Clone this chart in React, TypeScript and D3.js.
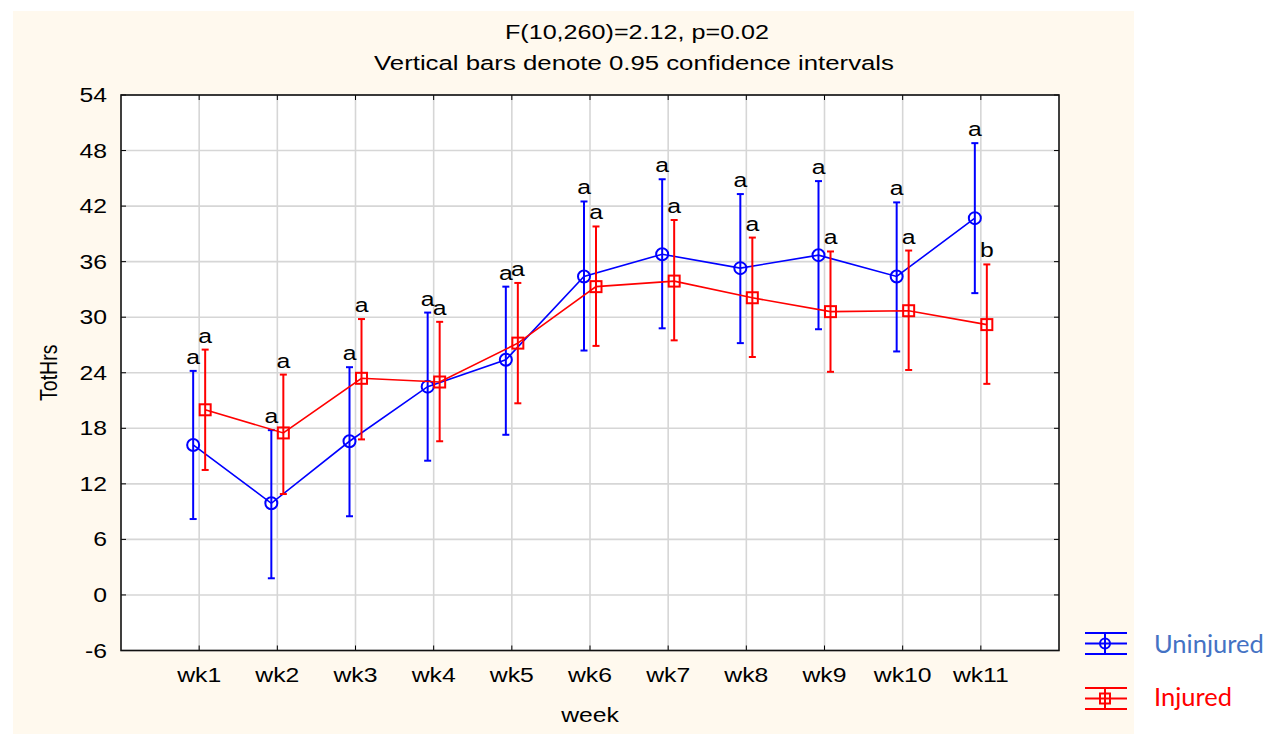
import React from 'react';
import * as d3 from 'd3';

const weeks = ['wk1', 'wk2', 'wk3', 'wk4', 'wk5', 'wk6', 'wk7', 'wk8', 'wk9', 'wk10', 'wk11'];
const yTicks = [-6, 0, 6, 12, 18, 24, 30, 36, 42, 48, 54];

const uninjuredMean = [16.2, 9.9, 16.6, 22.5, 25.4, 34.4, 36.8, 35.3, 36.7, 34.4, 40.7];
const uninjuredUpper = [24.2, 17.8, 24.6, 30.5, 33.3, 42.5, 44.9, 43.3, 44.7, 42.4, 48.8];
const uninjuredLower = [8.2, 1.8, 8.5, 14.5, 17.3, 26.4, 28.8, 27.2, 28.7, 26.3, 32.6];
const uninjuredLetters = ['a', 'a', 'a', 'a', 'a', 'a', 'a', 'a', 'a', 'a', 'a'];

const injuredMean = [20.0, 17.5, 23.4, 23.0, 27.2, 33.3, 33.9, 32.1, 30.6, 30.7, 29.2];
const injuredUpper = [26.5, 23.8, 29.8, 29.5, 33.7, 39.8, 40.5, 38.6, 37.1, 37.2, 35.7];
const injuredLower = [13.5, 10.9, 16.8, 16.6, 20.7, 26.9, 27.5, 25.7, 24.1, 24.3, 22.8];
const injuredLetters = ['a', 'a', 'a', 'a', 'a', 'a', 'a', 'a', 'a', 'a', 'b'];

const titleLines = ['F(10,260)=2.12, p=0.02', 'Vertical bars denote 0.95 confidence intervals'];

const W = 1276;
const H = 734;
const L = 121, R = 1059, TOP = 95, BOT = 650.5;
const FONT = '"Liberation Sans", Arial, sans-serif';
const FS = 19.5;
const SX = 1.27;

function T(props: { x: number; y: number; anchor?: string; children: any; fill?: string; rotate?: boolean; size?: number }) {
  const { x, y, anchor = 'middle', children, fill = '#000', rotate, size = FS } = props;
  const tr = `translate(${x},${y}) scale(${SX},1)` + (rotate ? ' rotate(-90)' : '');
  return (
    <text transform={tr} textAnchor={anchor} fontFamily={FONT} fontSize={size} fill={fill}>
      {children}
    </text>
  );
}

export default function App() {
  const x = d3.scalePoint<string>().domain(weeks).range([L, R]).padding(1);
  const y = d3.scaleLinear().domain([-6, 54]).range([BOT, TOP]);
  const off = 6;

  const series = [
    { name: 'Uninjured', color: '#0000FF', mean: uninjuredMean, up: uninjuredUpper, lo: uninjuredLower, letters: uninjuredLetters, dx: -off, marker: 'circle' },
    { name: 'Injured', color: '#FF0000', mean: injuredMean, up: injuredUpper, lo: injuredLower, letters: injuredLetters, dx: off, marker: 'square' },
  ];

  return (
    <svg width={W} height={H} style={{ position: 'absolute', left: 0, top: 0, background: '#fff' }}>
      <rect x={13} y={11} width={1121} height={H - 11} fill="#FFF9EE" />
      <rect x={L} y={TOP} width={R - L} height={BOT - TOP} fill="#fff" />
      {/* grid */}
      {weeks.map((w) => (
        <line key={w} x1={x(w)} x2={x(w)} y1={TOP} y2={BOT} stroke="#D6D6D6" strokeWidth={1.6} />
      ))}
      {yTicks.map((t) => (
        <line key={t} x1={L} x2={R} y1={y(t)} y2={y(t)} stroke="#D6D6D6" strokeWidth={1.6} />
      ))}
      {/* ticks inward */}
      {weeks.map((w) => (
        <g key={'t' + w}>
          <line x1={x(w)} x2={x(w)} y1={BOT} y2={BOT - 5} stroke="#000" strokeWidth={1} />
          <line x1={x(w)} x2={x(w)} y1={TOP} y2={TOP + 5} stroke="#000" strokeWidth={1} />
        </g>
      ))}
      {yTicks.map((t) => (
        <g key={'ty' + t}>
          <line x1={L} x2={L + 5} y1={y(t)} y2={y(t)} stroke="#000" strokeWidth={1} />
          <line x1={R} x2={R - 5} y1={y(t)} y2={y(t)} stroke="#000" strokeWidth={1} />
        </g>
      ))}
      <rect x={L} y={TOP} width={R - L} height={BOT - TOP} fill="none" stroke="#111" strokeWidth={1.6} />

      {/* tick labels */}
      {yTicks.map((t) => (
        <T key={'yl' + t} x={107} y={y(t) + 7} anchor="end">{t}</T>
      ))}
      {weeks.map((w) => (
        <T key={'xl' + w} x={x(w)!} y={682}>{w}</T>
      ))}
      <T x={(L + R) / 2} y={722}>week</T>
      <T x={57} y={(TOP + BOT) / 2} rotate>TotHrs</T>
      <T x={637} y={39} size={19.8}>{titleLines[0]}</T>
      <T x={634} y={70} size={20.3}>{titleLines[1]}</T>

      {/* series */}
      {series.map((s) => {
        const px = (i: number) => x(weeks[i])! + s.dx;
        const path = d3.line<number>().x((_, i) => px(i)).y((d) => y(d))(s.mean);
        return (
          <g key={s.name}>
            {s.mean.map((m, i) => (
              <g key={i} stroke={s.color} strokeWidth={2}>
                <line x1={px(i)} x2={px(i)} y1={y(s.up[i])} y2={y(s.lo[i])} />
                <line x1={px(i) - 3.5} x2={px(i) + 3.5} y1={y(s.up[i])} y2={y(s.up[i])} />
                <line x1={px(i) - 3.5} x2={px(i) + 3.5} y1={y(s.lo[i])} y2={y(s.lo[i])} />
              </g>
            ))}
            <path d={path!} fill="none" stroke={s.color} strokeWidth={1.6} />
            {s.mean.map((m, i) =>
              s.marker === 'circle' ? (
                <circle key={'m' + i} cx={px(i)} cy={y(m)} r={6} fill="none" stroke={s.color} strokeWidth={2} />
              ) : (
                <rect key={'m' + i} x={px(i) - 5.5} y={y(m) - 5.5} width={11} height={11} fill="none" stroke={s.color} strokeWidth={2} />
              )
            )}
            {s.letters.map((l, i) => (
              <T key={'l' + i} x={px(i)} y={y(s.up[i]) - 7}>{l}</T>
            ))}
          </g>
        );
      })}

      {/* legend */}
      <g stroke="#0000FF" strokeWidth={2}>
        <line x1={1085} x2={1127} y1={633} y2={633} />
        <line x1={1085} x2={1127} y1={643.5} y2={643.5} />
        <line x1={1085} x2={1127} y1={654} y2={654} />
        <line x1={1105} x2={1105} y1={633} y2={654} />
        <circle cx={1105} cy={643.5} r={5} fill="none" />
      </g>
      <g stroke="#FF0000" strokeWidth={2}>
        <line x1={1085} x2={1127} y1={688} y2={688} />
        <line x1={1085} x2={1127} y1={698.5} y2={698.5} />
        <line x1={1085} x2={1127} y1={709} y2={709} />
        <line x1={1105} x2={1105} y1={688} y2={709} />
        <rect x={1100} y={693.5} width={10} height={10} fill="none" />
      </g>
      <text x={1154} y={653} fontFamily="Lato, 'Open Sans', sans-serif" fontSize={25.5} fill="#4472C4">Uninjured</text>
      <text x={1154} y={706} fontFamily="Lato, 'Open Sans', sans-serif" fontSize={25.5} fill="#FF0000">Injured</text>
    </svg>
  );
}
